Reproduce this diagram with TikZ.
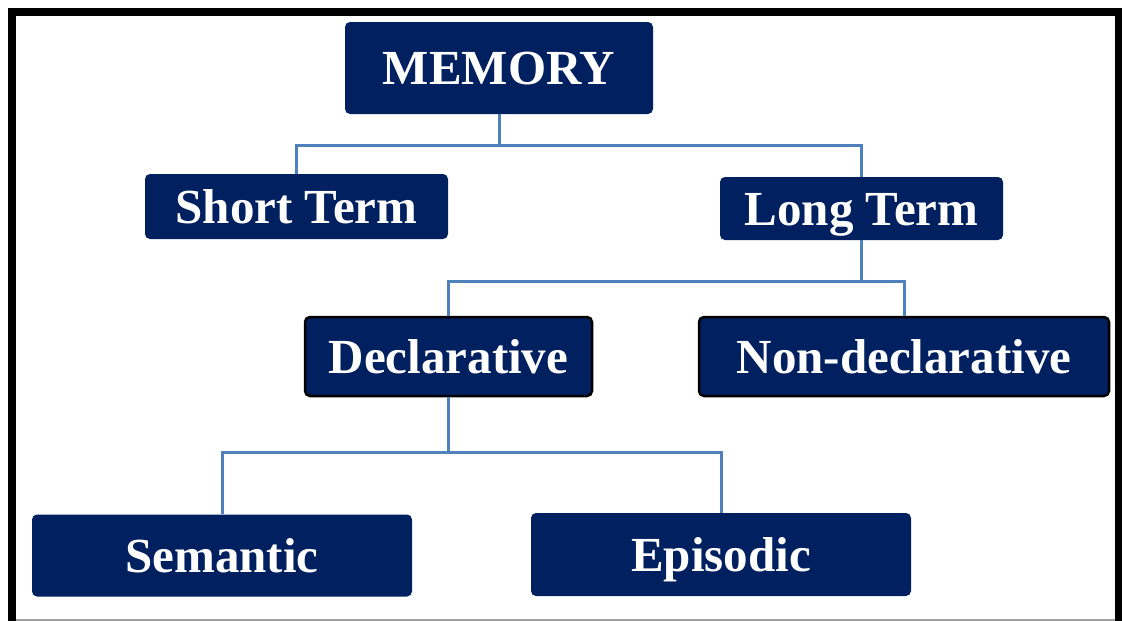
\documentclass[tikz,border=0pt]{standalone}
\usepackage{fontspec}
\setmainfont{Liberation Serif}
\usetikzlibrary{calc}
\definecolor{navy}{HTML}{002060}
\definecolor{linkblue}{HTML}{4F81BD}
\definecolor{rimgray}{HTML}{A0A0A0}
\tikzset{
  box/.style={fill=navy, draw=none, rounded corners=5pt, inner sep=0pt,
    text=white, font=\bfseries\fontsize{49}{59}\selectfont,
    text height=33pt, text depth=0pt, align=center},
  framedbox/.style={box, draw=black, line width=2.5pt},
  link/.style={draw=linkblue, line width=3pt}
}
\begin{document}
\begin{tikzpicture}[x=1pt, y=-1pt]
  \useasboundingbox (0,0) rectangle (1122,621);
  % outer frame
  \fill[black] (8,8) rectangle (16,621);
  \fill[black] (8,8) rectangle (1122,16);
  \fill[black] (1115,8) rectangle (1122,621);
  \fill[rimgray] (16,619.3) rectangle (1115,621);

  % boxes
  \node[box, minimum width=308pt, minimum height=92pt] (mem) at (499,68) {MEMORY};
  \node[box, minimum width=303pt, minimum height=65pt] (st) at (296.5,206.5) {Short Term};
  \node[box, minimum width=283pt, minimum height=63pt] (lt) at (861.5,208.5) {Long Term};
  \node[framedbox, minimum width=287pt, minimum height=79pt] (dec) at (448.5,356.5) {Declarative};
  \node[framedbox, minimum width=410pt, minimum height=79pt] (nd) at (904,356.5) {Non-declarative};
  \node[box, minimum width=380pt, minimum height=82pt] (sem) at (222,555.5) {Semantic};
  \node[box, minimum width=380pt, minimum height=83pt] (epi) at (721,554.5) {Episodic};

  % branch points
  \coordinate (j1) at ($(mem.south)+(0,31)$);
  \coordinate (j2) at ($(lt.south)+(0,41)$);
  \coordinate (j3) at ($(dec.south)+(0,55)$);

  % connectors
  \draw[link] (mem.south) -- (j1) -| (st.north);
  \draw[link] (j1) -| (lt.north);
  \draw[link] (lt.south) -- (j2) -| (dec.north);
  \draw[link] (j2) -| (nd.north);
  \draw[link] (dec.south) -- (j3) -| (sem.north);
  \draw[link] (j3) -| (epi.north);
\end{tikzpicture}
\end{document}
